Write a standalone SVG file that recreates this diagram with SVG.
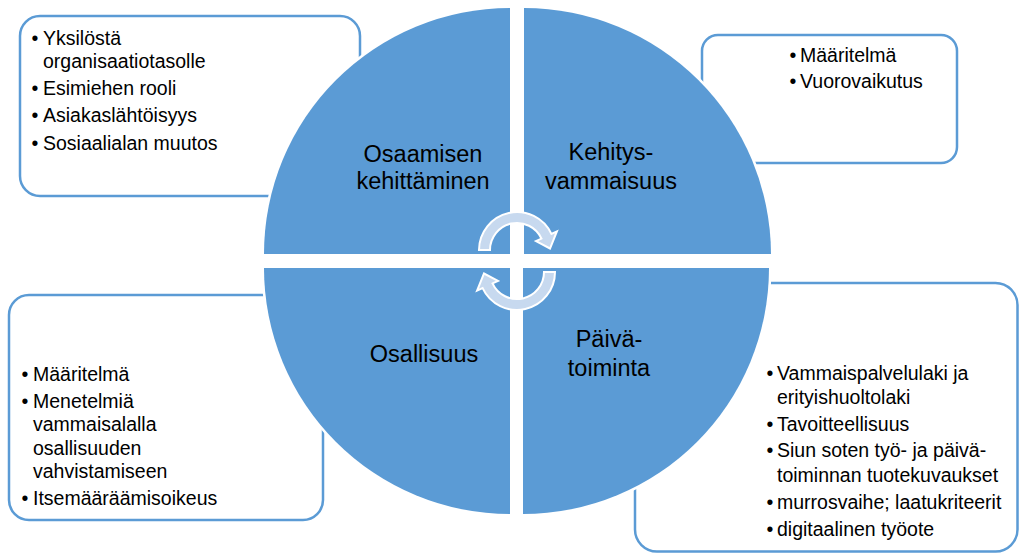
<svg xmlns="http://www.w3.org/2000/svg" width="1019" height="553" viewBox="0 0 1019 553">
  <style>
    .box { fill: #ffffff; stroke: #5B9BD5; stroke-width: 2.5; }
    .quad { fill: #5B9BD5; stroke: #ffffff; stroke-width: 5; paint-order: stroke fill; }
    .lbl { font-family: "Liberation Sans", Arial, sans-serif; font-size: 23.5px; fill: #000000; text-anchor: middle; }
    .bt { font-family: "Liberation Sans", Arial, sans-serif; font-size: 19.5px; fill: #000000; }
    .bul { font-family: "Liberation Sans", Arial, sans-serif; font-size: 19.5px; fill: #000000; text-anchor: middle; }
    .arr { fill: #C7D9EF; stroke: #ffffff; stroke-width: 2; stroke-linejoin: miter; }
  </style>
  <defs>
    <path id="cyc" d="M 479 250 A 38 38 0 0 1 551.4 233.9 L 556.9 231.4 L 550 248.5 L 536 241.1 L 541.5 238.6 A 27 27 0 0 0 490 250 Z"/>
  </defs>
  <rect width="1019" height="553" fill="#ffffff"/>

  <g id="box-osaaminen">
    <rect class="box" x="20" y="16" width="340" height="180" rx="20" ry="20"/>
    <text class="bul" x="35" y="45">•</text>
    <text class="bt" x="43" y="45">Yksilöstä</text>
    <text class="bt" x="43" y="68">organisaatiotasolle</text>
    <text class="bul" x="35" y="95">•</text>
    <text class="bt" x="43" y="95">Esimiehen rooli</text>
    <text class="bul" x="35" y="122">•</text>
    <text class="bt" x="43" y="122">Asiakaslähtöisyys</text>
    <text class="bul" x="35" y="150">•</text>
    <text class="bt" x="43" y="150">Sosiaalialan muutos</text>
  </g>

  <g id="box-kehitysvammaisuus">
    <rect class="box" x="702" y="35" width="255" height="128" rx="16" ry="16"/>
    <text class="bul" x="793" y="62">•</text>
    <text class="bt" x="800" y="62">Määritelmä</text>
    <text class="bul" x="793" y="88">•</text>
    <text class="bt" x="800" y="88">Vuorovaikutus</text>
  </g>

  <g id="box-osallisuus">
    <rect class="box" x="9" y="295" width="314" height="225" rx="20" ry="20"/>
    <text class="bul" x="25" y="381">•</text>
    <text class="bt" x="33" y="381">Määritelmä</text>
    <text class="bul" x="25" y="408">•</text>
    <text class="bt" x="33" y="408">Menetelmiä</text>
    <text class="bt" x="33" y="431">vammaisalalla</text>
    <text class="bt" x="33" y="455">osallisuuden</text>
    <text class="bt" x="33" y="478">vahvistamiseen</text>
    <text class="bul" x="25" y="505">•</text>
    <text class="bt" x="33" y="505">Itsemääräämisoikeus</text>
  </g>

  <g id="box-paivatoiminta">
    <rect class="box" x="635" y="283" width="382.5" height="268.5" rx="22" ry="22"/>
    <text class="bul" x="770" y="380">•</text>
    <text class="bt" x="777" y="380">Vammaispalvelulaki ja</text>
    <text class="bt" x="777" y="404">erityishuoltolaki</text>
    <text class="bul" x="770" y="431">•</text>
    <text class="bt" x="777" y="431">Tavoitteellisuus</text>
    <text class="bul" x="770" y="457">•</text>
    <text class="bt" x="777" y="457">Siun soten työ- ja päivä-</text>
    <text class="bt" x="777" y="482">toiminnan tuotekuvaukset</text>
    <text class="bul" x="770" y="509">•</text>
    <text class="bt" x="777" y="509">murrosvaihe; laatukriteerit</text>
    <text class="bul" x="770" y="536">•</text>
    <text class="bt" x="777" y="536">digitaalinen työote</text>
  </g>

  <g id="quad-osaamisen-kehittaminen">
    <path class="quad" d="M 510 254 L 264 254 A 246 246 0 0 1 510 8 Z"/>
    <text class="lbl" x="423" y="162">Osaamisen</text>
    <text class="lbl" x="423" y="189">kehittäminen</text>
  </g>

  <g id="quad-kehitysvammaisuus">
    <path class="quad" d="M 524 254 L 524 8 A 247 247 0 0 1 771 254 Z"/>
    <text class="lbl" x="611" y="160">Kehitys-</text>
    <text class="lbl" x="611" y="189">vammaisuus</text>
  </g>

  <g id="quad-osallisuus">
    <path class="quad" d="M 510 268 L 510 514 A 246 246 0 0 1 264 268 Z"/>
    <text class="lbl" x="424" y="362">Osallisuus</text>
  </g>

  <g id="quad-paivatoiminta">
    <path class="quad" d="M 523 268 L 769 268 A 246 246 0 0 1 523 514 Z"/>
    <text class="lbl" x="609" y="347">Päivä-</text>
    <text class="lbl" x="609" y="376">toiminta</text>
  </g>

  <g id="connectors">
    <use href="#cyc" class="arr"/>
    <use href="#cyc" class="arr" transform="rotate(180 517 261)"/>
  </g>
</svg>
